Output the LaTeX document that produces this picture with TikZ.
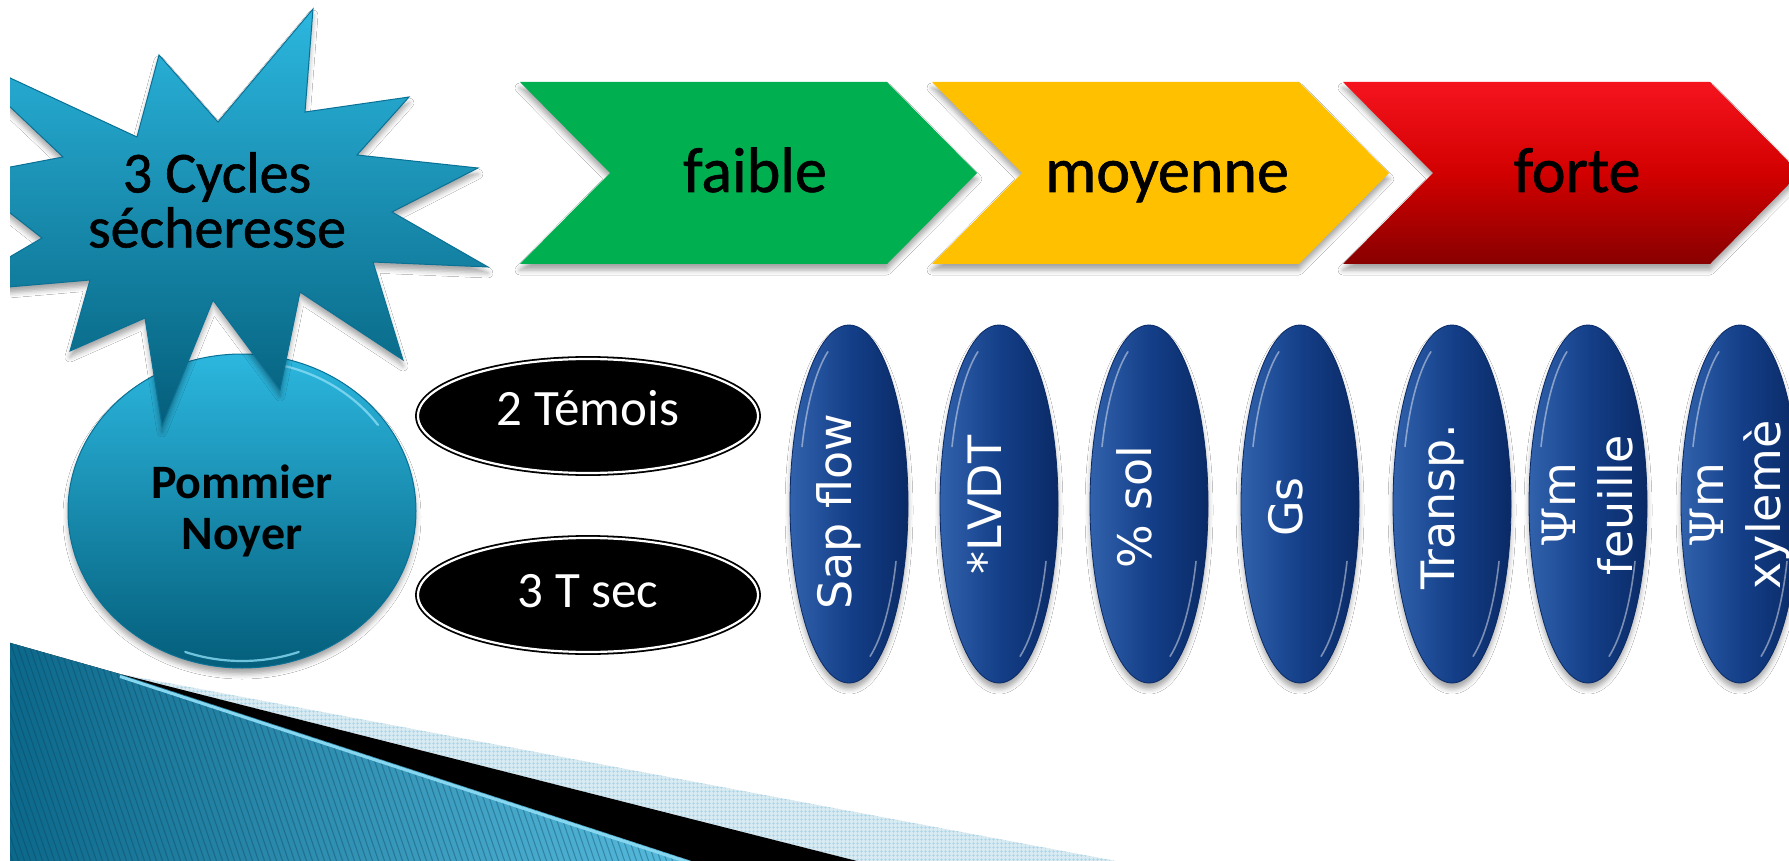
\documentclass[tikz,border=0pt]{standalone}
\usepackage{fontspec}
\setmainfont{Carlito}
\newfontfamily\calfb[FakeBold=1]{Carlito}
\newfontfamily\dvs{DejaVu Sans}
\newfontfamily\psif{DejaVu Serif}
\usetikzlibrary{shapes.geometric,shadows.blur,patterns.meta}
\definecolor{starT}{HTML}{2CB7DF}
\definecolor{starB}{HTML}{045E7B}
\definecolor{starE}{HTML}{0A7196}
\definecolor{cgreen}{HTML}{00AF50}
\definecolor{cyellow}{HTML}{FFC000}
\definecolor{redT}{HTML}{F5141E}
\definecolor{redM}{HTML}{D20000}
\definecolor{redB}{HTML}{880000}
\definecolor{blueL}{HTML}{3262AC}
\definecolor{blueM}{HTML}{143F89}
\definecolor{blueD}{HTML}{0A2A66}
\definecolor{decoL}{HTML}{0B6789}
\definecolor{decoR}{HTML}{58BCDF}
\definecolor{stripeC}{HTML}{083F56}
\definecolor{checkL}{HTML}{D8EBF3}
\definecolor{checkG}{HTML}{A9D2E3}
\definecolor{cyanline}{HTML}{86D6F0}
\definecolor{rimC}{HTML}{8ADCF4}
\tikzdeclarepattern{
  name=finegrid,
  type=uncolored,
  bounding box={(0pt,0pt) and (4pt,4pt)},
  tile size={(4pt,4pt)},
  code={\draw[line width=0.7pt] (0pt,2pt) -- (4pt,2pt) (2pt,0pt) -- (2pt,4pt);}
}
\tikzset{
  softshadow/.style={blur shadow={shadow xshift=0pt, shadow yshift=-6pt, shadow opacity=35, shadow blur radius=5pt}},
  chev/.style={softshadow},
  chevtext/.style={anchor=base, inner sep=0pt, text=black, font=\calfb\fontsize{64}{70}\selectfont},
  starshape/.style={top color=starT, bottom color=starB, draw=starE, line width=1pt},
  startext/.style={align=center, inner sep=0pt, text=black, font=\calfb\fontsize{58}{55}\selectfont},
  circ/.style={ellipse, minimum width=348pt, minimum height=314pt, inner sep=0pt,
    top color=starT, bottom color=starB, draw=starE, line width=1pt, softshadow,
    align=center, text=black, font=\bfseries\fontsize{48}{51}\selectfont},
  blackell/.style={ellipse, minimum width=340pt, minimum height=114pt, inner sep=0pt,
    fill=black, draw=black, line width=1.8pt, double=white, double distance=2.2pt},
  btext/.style={anchor=base, inner sep=0pt, text=white, font=\fontsize{51}{55}\selectfont},
  blueell/.style={ellipse, minimum width=118pt, minimum height=358pt, inner sep=0pt,
    left color=blueL, right color=blueD, middle color=blueM, draw=blueD, line width=0.8pt, softshadow},
  vtext/.style={rotate=90, inner sep=0pt, text=white, align=center, font=\dvs\fontsize{46}{57}\selectfont},
  vone/.style={vtext, text height=0.75em, text depth=0.2em},
  stripe/.style={draw=stripeC, draw opacity=0.35, line width=1.1pt},
  hl/.style={draw=white, draw opacity=0.45, line width=1.6pt, line cap=round},
  rim/.style={draw=rimC, draw opacity=0.8, line width=2.2pt, line cap=round}
}
\begin{document}
\begin{tikzpicture}[x=1pt,y=-1pt]
\useasboundingbox (0,0) rectangle (1789,861);
\fill[white] (0,0) rectangle (1789,861);
\begin{scope}
\clip (10,0) rectangle (1789,861);
% ---- bottom-left decoration
\coordinate (A) at (120,674);
\coordinate (B) at (692,861);
\coordinate (C) at (857,861);
\coordinate (D) at (1116,861);
\coordinate (E) at (0,640);
\coordinate (F) at (0,861);
\fill[left color=decoL, right color=decoR] (E) -- (A) -- (B) -- (F) -- cycle;
\begin{scope}
  \clip (E) -- (A) -- (B) -- (F) -- cycle;
  \foreach \i in {-120,-114,...,720} \draw[stripe] (\i,630) -- ++(82,241);
\end{scope}
\fill[checkL] (A) -- (D) -- (C) -- cycle;
\fill[pattern=finegrid, pattern color=checkG] (A) -- (D) -- (C) -- cycle;
\fill[black] (A) -- (C) -- (B) -- cycle;
\draw[cyanline, line width=3pt] ([yshift=-2.5pt]A) -- ([yshift=-2.5pt]B);
% ---- circle
\node[circ] (tree) at (242,511) {Pommier\\Noyer};
\draw[rim] (tree.center) ++(285:166 and 150) arc[start angle=285, end angle=325, x radius=166, y radius=150];
\draw[rim] (tree.center) ++(70:166 and 150) arc[start angle=70, end angle=110, x radius=166, y radius=150];
% ---- starburst
\path[starshape, softshadow] (-50,50) -- (137,137) -- (159,55) -- (218,122) -- (313,9) -- (305,112)
  -- (409,97) -- (357,155) -- (478,168) -- (392,212) -- (488,267) -- (373,262)
  -- (403,360) -- (300,292) -- (280,390) -- (213,300) -- (162,426) -- (145,318)
  -- (70,351) -- (90,280) -- (-50,292) -- (42,238) -- (-37,176) -- (63,157) -- cycle;
\node[startext] (cycles) at (217,200) {3 Cycles\\sécheresse};
% ---- chevrons
\path[chev, fill=cgreen] (520,82) -- (887,82) -- (977,173) -- (887,264) -- (520,264) -- (610,173) -- cycle;
\begin{scope}[xshift=412pt]
\path[chev, fill=cyellow] (520,82) -- (887,82) -- (977,173) -- (887,264) -- (520,264) -- (610,173) -- cycle;
\end{scope}
\begin{scope}[xshift=823pt]
\path[chev, top color=redT, bottom color=redB, middle color=redM] (520,82) -- (887,82) -- (977,173) -- (887,264) -- (520,264) -- (610,173) -- cycle;
\end{scope}
\node[chevtext] (faible) at (755,192) {faible};
\node[chevtext] (moyenne) at (1167,192) {moyenne};
\node[chevtext] (forte) at (1577,192) {forte};
% ---- black ellipses
\node[blackell] (temoins) at (588,416) {};
\node[btext] (temoinsT) at (588,425) {2 Témois};
\node[blackell] (tsec) at (588,595) {};
\node[btext] (tsecT) at (588,607) {3 T sec};
% ---- blue ellipses
\foreach \nm/\xx in {sap/849, lvdt/999, sol/1149, gs/1300, transp/1452, feuille/1588, xyleme/1740}{
  \node[blueell] (\nm) at (\xx,504) {};
  \draw[hl] (\nm.center) ++(200:50 and 168) arc[start angle=200, end angle=245, x radius=50, y radius=168];
  \draw[hl] (\nm.center) ++(20:50 and 168) arc[start angle=20, end angle=65, x radius=50, y radius=168];
}
\node[vone] (sapT) at (849,512) {Sap flow};
\node[vone] (lvdtT) at (999,505) {*LVDT};
\node[vone] (solT) at (1149,507) {\% sol};
\node[vone] (gsT) at (1300,507) {Gs};
\node[vone] (transpT) at (1452,507) {Transp.};
\node[vtext] (feuilleT) at (1588,505) {{\psif Ψ}m\\feuille};
\node[vtext] (xylemeT) at (1740,505) {{\psif Ψ}m\\xylemè};
\end{scope}
\end{tikzpicture}
\end{document}
